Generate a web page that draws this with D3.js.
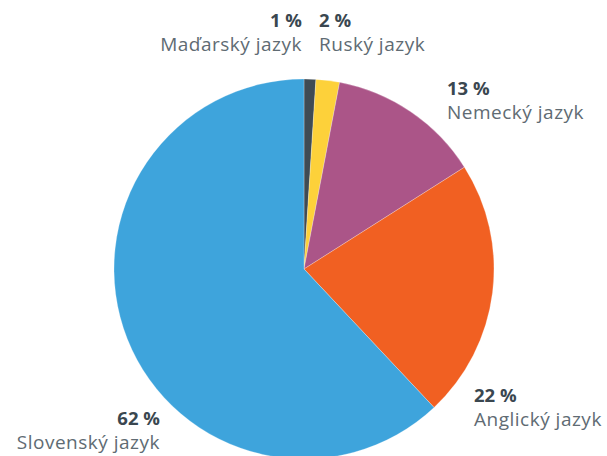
<!DOCTYPE html>
<html><head><meta charset="utf-8">
<script src="https://cdn.jsdelivr.net/npm/d3@7/dist/d3.min.js"></script>
<style>
body{margin:0;background:#fff;}
svg{display:block;font-family:"Open Sans",Lato,sans-serif;}
</style></head>
<body><svg id="c" width="607" height="456"></svg>
<script>
const categories = ["Maďarský jazyk","Ruský jazyk","Nemecký jazyk","Anglický jazyk","Slovenský jazyk"];
const values = [1, 2, 13, 22, 62];
const percentLabels = ["1 %","2 %","13 %","22 %","62 %"];
const colors = ["#3f4b54","#fdd13a","#ab5588","#f16022","#3ea4dc"];

// label layout (anchor x, first baseline y, text-anchor)
const labelLayout = [
  {x:302, y:27, anchor:"end"},
  {x:319, y:27, anchor:"start"},
  {x:447, y:95, anchor:"start"},
  {x:474, y:402, anchor:"start"},
  {x:160, y:425, anchor:"end"}
];

const svg = d3.select("#c");
const cx = 304, cy = 269, r = 190;
const pie = d3.pie().sort(null).value(d=>d)(values);
const arc = d3.arc().innerRadius(0).outerRadius(r);
const g = svg.append("g").attr("transform",`translate(${cx},${cy})`);
g.selectAll("path").data(pie).join("path")
  .attr("d",arc).attr("fill",(d,i)=>colors[i])
  .attr("stroke","#ffffff").attr("stroke-width",0.5).attr("stroke-opacity",0.5);

const lg = svg.append("g");
categories.forEach((c,i)=>{
  const L = labelLayout[i];
  lg.append("text").attr("x",L.x).attr("y",L.y).attr("text-anchor",L.anchor)
    .attr("font-size",18.5).attr("font-weight",700).attr("fill","#3a4750").text(percentLabels[i]);
  lg.append("text").attr("x",L.x).attr("y",L.y+24).attr("text-anchor",L.anchor)
    .attr("font-size",19).attr("letter-spacing",0.5).attr("font-weight",400).attr("fill","#606b73").text(c);
});
</script>
</body></html>
